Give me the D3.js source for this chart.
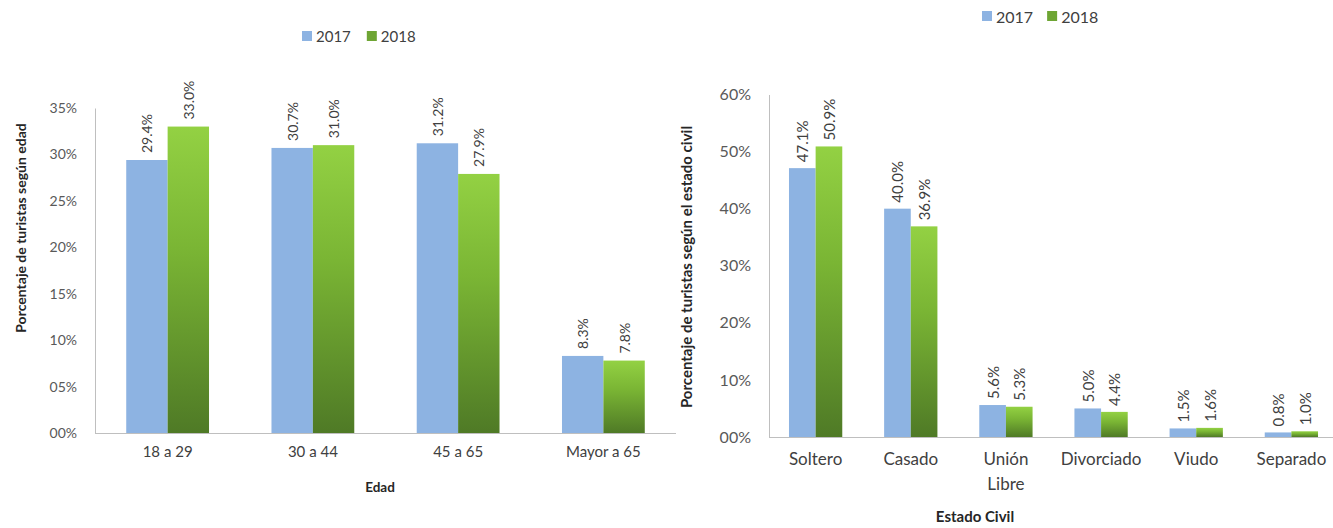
<!DOCTYPE html>
<html>
<head>
<meta charset="utf-8">
<script src="https://cdn.jsdelivr.net/npm/d3@7"></script>
<style>
  html, body { margin: 0; padding: 0; background: #fff; }
  svg { display: block; font-family: Lato, "Open Sans", sans-serif; }
</style>
</head>
<body>
<svg id="chart" width="1333" height="528"></svg>
<script>
// ---- data ----
const seriesNames = ["2017", "2018"];
const edadCats = ["18 a 29", "30 a 44", "45 a 65", "Mayor a 65"];
const edad2017 = [29.4, 30.7, 31.2, 8.3];
const edad2018 = [33.0, 31.0, 27.9, 7.8];
const edadTicks = [0, 5, 10, 15, 20, 25, 30, 35];

const civilCats = ["Soltero", "Casado", "Unión Libre", "Divorciado", "Viudo", "Separado"];
const civil2017 = [47.1, 40.0, 5.6, 5.0, 1.5, 0.8];
const civil2018 = [50.9, 36.9, 5.3, 4.4, 1.6, 1.0];
const civilTicks = [0, 10, 20, 30, 40, 50, 60];

const svg = d3.select("#chart");
const defs = svg.append("defs");
const grad = defs.append("linearGradient").attr("id", "greenGrad")
  .attr("x1", 0).attr("y1", 0).attr("x2", 0).attr("y2", 1);
grad.append("stop").attr("offset", "0%").attr("stop-color", "#93d143");
grad.append("stop").attr("offset", "40%").attr("stop-color", "#7ab534");
grad.append("stop").attr("offset", "100%").attr("stop-color", "#4f7a26");

const BLUE = "#8db3e2";
const fills = [BLUE, "url(#greenGrad)"];
const legendFills = [BLUE, "#6ea534"];

function drawChart(o) {
  const g = svg.append("g");
  const x0 = d3.scaleBand().domain(o.cats).range(o.xRange)
    .paddingInner(o.pi).paddingOuter(o.po);
  const x1 = d3.scaleBand().domain(seriesNames).range([0, x0.bandwidth()]);
  const y = d3.scaleLinear().domain([0, o.max]).range(o.yRange);

  // y axis
  const ya = g.append("g").attr("transform", `translate(${o.xRange[0]},0)`)
    .call(d3.axisLeft(y).tickValues(o.ticks).tickSize(0).tickSizeOuter(0)
      .tickPadding(o.tickPad).tickFormat(d => d3.format("02d")(d) + "%"));
  ya.select(".domain").attr("stroke", "#bfbfbf");
  ya.selectAll("text").attr("fill", "#595959").style("font-size", o.tickFont + "px")
    .style("font-family", "Lato, sans-serif");

  // x axis
  const xa = g.append("g").attr("transform", `translate(0,${o.yRange[0]})`)
    .call(d3.axisBottom(x0).tickSize(0).tickSizeOuter(0).tickPadding(o.catPad).tickFormat(""));
  xa.select(".domain").attr("stroke", "#bfbfbf")
    .attr("d", `M${o.xRange[0]},0.5H${o.axisEnd}`);
  xa.selectAll(".tick").each(function(d) {
    const t = d3.select(this).append("text")
      .attr("fill", "#404040").attr("text-anchor", "middle")
      .style("font-size", o.catFont + "px").style("font-family", "Lato, sans-serif")
      .attr("y", o.catPad);
    const parts = d.split(" ");
    if (o.wrap && parts.length > 1) {
      parts.forEach((p, i) => t.append("tspan").attr("x", 0).attr("dy", i === 0 ? 0 : o.catFont * 1.45).text(p));
    } else {
      t.text(d);
    }
  });

  // bars
  const data = o.cats.map((c, i) => ({ c, vals: [o.s1[i], o.s2[i]] }));
  const grp = g.selectAll(".grp").data(data).join("g")
    .attr("transform", d => `translate(${x0(d.c)},0)`);
  grp.selectAll("rect").data(d => d.vals.map((v, k) => ({ v, k }))).join("rect")
    .attr("x", d => x1(seriesNames[d.k]))
    .attr("width", x1.bandwidth())
    .attr("y", d => y(d.v))
    .attr("height", d => y(0) - y(d.v))
    .attr("fill", d => fills[d.k]);
  grp.selectAll("text.val").data(d => d.vals.map((v, k) => ({ v, k }))).join("text")
    .attr("class", "val")
    .attr("transform", d => `translate(${x1(seriesNames[d.k]) + x1.bandwidth() / 2},${y(d.v) - o.valGap}) rotate(-90)`)
    .attr("dominant-baseline", "central")
    .attr("fill", "#404040")
    .style("font-size", o.valFont + "px")
    .text(d => d3.format(".1f")(d.v) + "%");

  // legend
  const lg = g.append("g").attr("transform", `translate(${o.legendX},${o.legendY})`);
  let lx = 0;
  seriesNames.forEach((s, k) => {
    lg.append("rect").attr("x", lx).attr("y", -5).attr("width", 10).attr("height", 10)
      .attr("fill", legendFills[k]);
    const t = lg.append("text").attr("x", lx + 14).attr("y", 0).attr("dominant-baseline", "central")
      .attr("fill", "#404040").style("font-size", o.legendFont + "px").text(s);
    lx += 14 + t.node().getComputedTextLength() + o.legendGap;
  });

  // axis titles
  g.append("text").attr("transform", `translate(${o.yTitleX},${o.yTitleY}) rotate(-90)`)
    .attr("text-anchor", "middle").attr("dominant-baseline", "central")
    .attr("fill", "#262626").style("font-weight", "bold").style("font-size", o.yTitleFont + "px")
    .text(o.yTitle);
  g.append("text").attr("x", o.xTitleX).attr("y", o.xTitleY)
    .attr("text-anchor", "middle").attr("dominant-baseline", "central")
    .attr("fill", "#262626").style("font-weight", "bold").style("font-size", o.xTitleFont + "px")
    .text(o.xTitle);
}

drawChart({
  cats: edadCats, s1: edad2017, s2: edad2018, ticks: edadTicks, max: 35,
  xRange: [95, 676], axisEnd: 676, yRange: [433, 108], pi: 0.43, po: 0.215,
  tickPad: 18, tickFont: 14, catPad: 24, catFont: 15, valFont: 14, valGap: 7, wrap: false,
  legendX: 302, legendY: 36, legendFont: 15, legendGap: 16,
  yTitle: "Porcentaje de turistas según edad", yTitleX: 20, yTitleY: 228, yTitleFont: 14,
  xTitle: "Edad", xTitleX: 380, xTitleY: 487, xTitleFont: 13.5
});

drawChart({
  cats: civilCats, s1: civil2017, s2: civil2018, ticks: civilTicks, max: 60,
  xRange: [769, 1338], axisEnd: 1333, yRange: [437, 94.5], pi: 0.44, po: 0.21,
  tickPad: 18, tickFont: 16, catPad: 28, catFont: 17, valFont: 15, valGap: 6, wrap: true,
  legendX: 982, legendY: 16, legendFont: 16, legendGap: 14,
  yTitle: "Porcentaje de turistas según el estado civil", yTitleX: 686, yTitleY: 267, yTitleFont: 15,
  xTitle: "Estado Civil", xTitleX: 975, xTitleY: 516, xTitleFont: 15
});
</script>
</body>
</html>
